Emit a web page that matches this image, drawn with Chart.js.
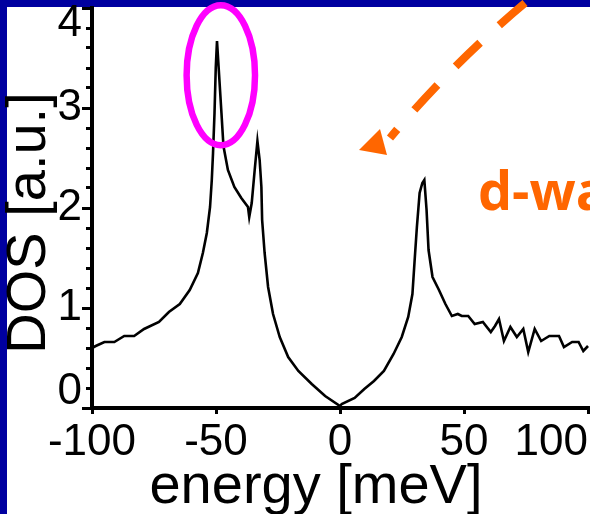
<!DOCTYPE html>
<html>
<head>
<meta charset="utf-8">
<script src="https://cdn.jsdelivr.net/npm/chart.js@4/dist/chart.umd.min.js"></script>
<style>
  html, body { margin: 0; padding: 0; background: #fff; overflow: hidden; }
  canvas { display: block; }
</style>
</head>
<body>
<canvas id="dos" width="590" height="514"></canvas>
<script>
// Density of states vs. energy (d-wave superconductor)
const energy = [
  -100, -98.5, -95, -91, -87, -83, -79, -73, -69, -64.6,
  -60.6, -57.3, -55.3, -53.7, -52.4, -51.7, -51.2, -50.6, -50.1, -49.6,
  -48.8, -47.8, -47.0, -45.2, -42.6, -39.8, -37.1, -36.6, -35.6, -34.4,
  -33.3, -32.4, -31.7, -31.4, -30.4, -29.0, -27.0, -24.3, -20.9, -16.8,
  -11.4, -6.0, 0, 0.7, 5.9, 9.8, 13.7, 17.7, 21.6, 24.9,
  27.5, 29.2, 30.1, 31.0, 32.1, 33.2, 34.0, 34.9, 35.7, 37.3,
  39.9, 42.5, 45.1, 47.5, 49.1, 51.7, 54.3, 57.6, 60.8, 62.5,
  64.1, 66.1, 68.7, 71.3, 73.9, 75.9, 78.5, 81.1, 84.4, 88.3,
  90.3, 93.6, 96.2, 98.1, 100
];
const dos = [
  0.60, 0.62, 0.66, 0.66, 0.72, 0.72, 0.79, 0.86, 0.96, 1.04,
  1.18, 1.35, 1.55, 1.75, 2.01, 2.28, 2.55, 2.95, 3.40, 3.67,
  3.35, 2.95, 2.62, 2.38, 2.21, 2.10, 2.01, 1.91, 2.05, 2.38,
  2.67, 2.48, 2.21, 1.88, 1.55, 1.21, 0.94, 0.71, 0.51, 0.37,
  0.24, 0.12, 0.02, 0.04, 0.10, 0.19, 0.27, 0.37, 0.54, 0.71,
  0.91, 1.14, 1.48, 1.81, 2.15, 2.25, 2.28, 1.98, 1.58, 1.31,
  1.18, 1.04, 0.92, 0.94, 0.92, 0.92, 0.84, 0.86, 0.76, 0.82,
  0.89, 0.67, 0.81, 0.71, 0.79, 0.56, 0.79, 0.67, 0.72, 0.72,
  0.61, 0.66, 0.66, 0.57, 0.62
];

const xTickValues = [-100, -50, 0, 50, 100];
const yTickValues = [0, 1, 2, 3, 4];
const xTitle = 'energy [meV]';
const yTitle = 'DOS [a.u.]';
const noteText = 'd-wave';

// overlay annotations, in data coordinates (energy, DOS)
const peakMark = { x: -48.06, y: 3.328, rx: 13.79, ry: 0.70 };
const arrowPath = { x0: 74.6, y0: 4.05, cx: 44.96, cy: 3.435, x1: 20.16, y1: 2.70 };
const arrowHead = [[7.66, 2.58], [16.13, 2.79], [18.95, 2.53]];
const notePos = { x: 55.6, y: 1.98 };

const FONT = '"Liberation Sans", Arial, Helvetica, sans-serif';
const isMajorY = v => yTickValues.some(t => Math.abs(t - v) < 1e-6);

const slideFrame = {
  id: 'slideFrame',
  beforeDraw(chart) {
    const ctx = chart.ctx;
    ctx.save();
    ctx.fillStyle = '#0000a0';
    ctx.fillRect(0, 0, chart.width, chart.height);
    ctx.fillStyle = '#ffffff';
    ctx.fillRect(7, 7, chart.width - 7, chart.height - 7);
    ctx.restore();
  },
  afterDraw(chart) {
    const { ctx, scales: { x, y } } = chart;
    const px = v => x.getPixelForValue(v);
    const py = v => y.getPixelForValue(v);
    ctx.save();

    // axis titles
    ctx.fillStyle = '#000';
    ctx.font = '56px ' + FONT;
    ctx.textAlign = 'center';
    ctx.textBaseline = 'alphabetic';
    ctx.fillText(xTitle, 316, 503);
    ctx.save();
    ctx.translate(45, 223);
    ctx.rotate(-Math.PI / 2);
    ctx.fillText(yTitle, 0, 0);
    ctx.restore();

    // highlight around the coherence peak
    const ecx = px(peakMark.x), ecy = py(peakMark.y);
    const erx = Math.abs(px(peakMark.x + peakMark.rx) - ecx);
    const ery = Math.abs(py(peakMark.y + peakMark.ry) - ecy);
    ctx.strokeStyle = '#ff00ff';
    ctx.lineWidth = 6.5;
    ctx.beginPath();
    ctx.ellipse(ecx, ecy, erx, ery, 0, 0, Math.PI * 2);
    ctx.stroke();

    // dashed arrow
    ctx.strokeStyle = '#ff6600';
    ctx.fillStyle = '#ff6600';
    ctx.lineWidth = 8;
    ctx.setLineDash([34, 26]);
    ctx.beginPath();
    ctx.moveTo(px(arrowPath.x0), py(arrowPath.y0));
    ctx.quadraticCurveTo(px(arrowPath.cx), py(arrowPath.cy), px(arrowPath.x1), py(arrowPath.y1));
    ctx.stroke();
    ctx.setLineDash([]);
    ctx.beginPath();
    arrowHead.forEach(([ex, ey], i) => {
      if (i === 0) ctx.moveTo(px(ex), py(ey)); else ctx.lineTo(px(ex), py(ey));
    });
    ctx.closePath();
    ctx.fill();

    // label
    ctx.font = 'bold 54px "Open Sans", "DejaVu Sans", sans-serif';
    ctx.textAlign = 'left';
    ctx.fillText(noteText, px(notePos.x), py(notePos.y));
    ctx.restore();
  }
};

Chart.defaults.font.family = FONT;
Chart.defaults.color = '#000';

new Chart(document.getElementById('dos'), {
  type: 'scatter',
  data: {
    datasets: [{
      data: energy.map((e, i) => ({ x: e, y: dos[i] })),
      showLine: true,
      borderColor: '#000',
      borderWidth: 2.6,
      pointRadius: 0,
      tension: 0
    }]
  },
  options: {
    responsive: false,
    animation: false,
    devicePixelRatio: 1,
    layout: { padding: { top: 8, left: 0, right: 0, bottom: 0 } },
    plugins: { legend: { display: false }, tooltip: { enabled: false } },
    scales: {
      x: {
        type: 'linear',
        min: -100,
        max: 100.8,
        afterBuildTicks(scale) {
          // leading blank entry keeps the first label centred under 'inner' alignment
          scale.ticks = [{ value: xTickValues[0] }].concat(xTickValues.map(v => ({ value: v })));
        },
        afterFit(scale) {
          scale.height = 106;
          scale.paddingLeft = 0;
          scale.paddingRight = 0;
        },
        border: { display: true, color: '#000', width: 4 },
        grid: { drawOnChartArea: false, drawTicks: true, tickLength: 6, tickWidth: 3, tickColor: '#000' },
        ticks: {
          color: '#000',
          padding: 13,
          align: 'inner',
          autoSkip: false,
          maxRotation: 0,
          font: { size: 44, lineHeight: 0.727 },
          callback: (v, i) => (i === 0 ? '' : String(v))
        }
      },
      y: {
        type: 'linear',
        min: yTickValues[0],
        max: yTickValues[yTickValues.length - 1],
        afterBuildTicks(scale) {
          const ticks = [];
          for (let k = 0; k <= 20; k++) ticks.push({ value: k / 5 });
          scale.ticks = ticks;
        },
        afterFit(scale) {
          scale.width = 92;
          scale.paddingTop = 0;
          scale.paddingBottom = 0;
        },
        border: { display: true, color: '#000', width: 4 },
        grid: {
          drawOnChartArea: false,
          drawTicks: true,
          tickLength: 10,
          tickWidth: 3,
          tickColor: '#000',
          tickBorderDash: ctx => (ctx.tick && !isMajorY(ctx.tick.value) ? [0, 4, 20] : [])
        },
        ticks: {
          color: '#000',
          padding: 0,
          autoSkip: false,
          font: { size: 44, lineHeight: 0.727 },
          callback: v => {
            if (!isMajorY(v)) return '';
            const s = String(Math.round(v));
            if (Math.abs(v - yTickValues[0]) < 1e-6) return [s, ''];
            if (Math.abs(v - yTickValues[yTickValues.length - 1]) < 1e-6) return ['', s];
            return s;
          }
        }
      }
    }
  },
  plugins: [slideFrame]
});
</script>
</body>
</html>
